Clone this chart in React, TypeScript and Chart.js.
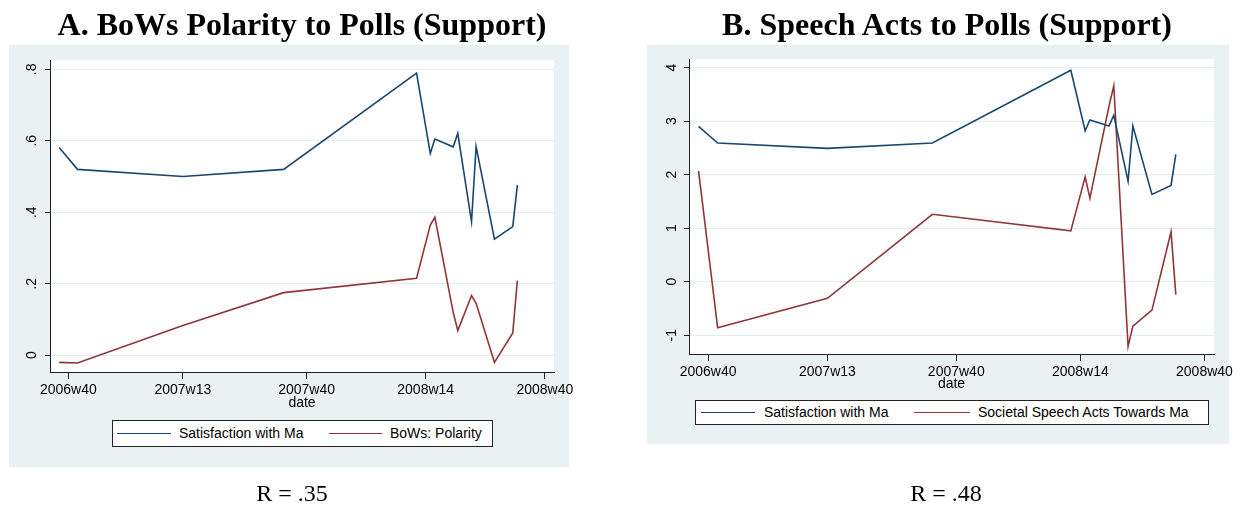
import React, { useEffect, useRef } from "react";
import { Chart, registerables } from "chart.js";

Chart.register(...registerables);

// Stata weekly dates of the poll observations
const weeks = [
  "2006w38", "2006w42", "2007w13", "2007w35", "2008w12", "2008w15", "2008w16",
  "2008w20", "2008w21", "2008w24", "2008w25", "2008w29", "2008w33", "2008w34",
];

// Panel A series
const satisfactionA = [0.581, 0.52, 0.5, 0.52, 0.789, 0.565, 0.605, 0.583, 0.621, 0.374, 0.584, 0.325, 0.36, 0.476];
const bowsPolarity = [-0.02, -0.022, 0.083, 0.175, 0.215, 0.364, 0.386, 0.12, 0.069, 0.167, 0.145, -0.02, 0.062, 0.209];

// Panel B series
const satisfactionB = [2.9, 2.59, 2.49, 2.59, 3.95, 2.82, 3.02, 2.91, 3.11, 1.88, 2.91, 1.63, 1.8, 2.38];
const speechActs = [2.07, -0.86, -0.31, 1.26, 0.95, 1.96, 1.56, 3.28, 3.66, -1.21, -0.83, -0.53, 0.93, -0.24];

// Axis ticks and labels
const xTickLabels = ["2006w40", "2007w13", "2007w40", "2008w14", "2008w40"];
const xRange = ["2006w36", "2008w42"];
const yTicksA = [0, 0.2, 0.4, 0.6, 0.8];
const yLabelsA = ["0", ".2", ".4", ".6", ".8"];
const yTicksB = [-1, 0, 1, 2, 3, 4];
const yLabelsB = ["-1", "0", "1", "2", "3", "4"];

const NAVY = "#1a476f";
const MAROON = "#90353b";
const REGION = "#eaf1f3";
const GRID = "#e3edf0";
const INK = "#222222";
const SANS = "'Liberation Sans', Arial, sans-serif";
const SERIF = "'Liberation Serif', 'Times New Roman', serif";

const weekIndex = (s: string) => {
  const [y, w] = s.split("w").map(Number);
  return y * 52 + w - 1;
};

const toPoints = (vals: number[]) => weeks.map((w, i) => ({ x: weekIndex(w), y: vals[i] }));

// Paints the light graph region and the white plot region behind the lines
const regionPlugin = {
  id: "stataRegion",
  beforeDraw(chart: any, _args: any, opts: any) {
    const { ctx, chartArea } = chart;
    ctx.save();
    ctx.fillStyle = REGION;
    ctx.fillRect(opts.x, opts.y, opts.w, opts.h);
    ctx.fillStyle = "#ffffff";
    ctx.fillRect(chartArea.left, chartArea.top, chartArea.right - chartArea.left, chartArea.bottom - chartArea.top);
    ctx.restore();
  },
};

type PanelSpec = {
  left: number;
  region: { x: number; y: number; w: number; h: number };
  padTop: number;
  padRight: number;
  yWidth: number;
  xHeight: number;
  yMin: number;
  yMax: number;
  yTicks: number[];
  yLabels: string[];
  yPad: number;
  datePad: number;
  series: { label: string; values: number[]; color: string }[];
};

function Panel({ spec }: { spec: PanelSpec }) {
  const ref = useRef<HTMLCanvasElement>(null);
  useEffect(() => {
    const xTickVals = xTickLabels.map(weekIndex);
    const chart = new Chart(ref.current as HTMLCanvasElement, {
      type: "line",
      data: {
        datasets: spec.series.map((s) => ({
          label: s.label,
          data: toPoints(s.values),
          borderColor: s.color,
          borderWidth: 1.6,
          pointRadius: 0,
          tension: 0,
          fill: false,
        })),
      },
      options: {
        animation: false,
        responsive: false,
        devicePixelRatio: 1,
        layout: { padding: { left: 0, top: spec.padTop, right: spec.padRight, bottom: 0 } },
        plugins: {
          legend: { display: false },
          tooltip: { enabled: false },
          stataRegion: spec.region,
        } as any,
        scales: {
          x: {
            type: "linear",
            min: weekIndex(xRange[0]),
            max: weekIndex(xRange[1]),
            afterBuildTicks: (scale: any) => {
              scale.ticks = xTickVals.map((v) => ({ value: v }));
            },
            afterFit: (scale: any) => {
              scale.height = spec.xHeight;
            },
            ticks: {
              autoSkip: false,
              maxRotation: 0,
              minRotation: 0,
              padding: 3,
              color: "#000",
              font: { family: SANS, size: 14 },
              callback: (v: any) => xTickLabels[xTickVals.indexOf(Number(v))] ?? "",
            },
            grid: { drawOnChartArea: false, tickLength: 7, tickColor: INK, tickWidth: 1 },
            border: { display: true, color: INK, width: 1 },
            title: {
              display: true,
              text: "date",
              color: "#000",
              font: { family: SANS, size: 14 },
              padding: { top: 0, bottom: spec.datePad },
            },
          },
          y: {
            type: "linear",
            min: spec.yMin,
            max: spec.yMax,
            afterBuildTicks: (scale: any) => {
              scale.ticks = spec.yTicks.map((v) => ({ value: v }));
            },
            afterFit: (scale: any) => {
              scale.width = spec.yWidth;
            },
            ticks: {
              minRotation: 90,
              maxRotation: 90,
              crossAlign: "center",
              padding: spec.yPad,
              color: "#000",
              font: { family: SANS, size: 14 },
              callback: (v: any) => {
                const i = spec.yTicks.findIndex((t) => Math.abs(t - Number(v)) < 1e-9);
                return i >= 0 ? spec.yLabels[i] : "";
              },
            },
            grid: { color: GRID, lineWidth: 1, tickLength: 5, tickColor: INK, tickWidth: 1 },
            border: { display: true, color: INK, width: 1 },
          },
        },
      },
      plugins: [regionPlugin],
    } as any);
    return () => chart.destroy();
  }, []);
  return (
    <canvas
      ref={ref}
      width={621}
      height={506}
      style={{ position: "absolute", left: spec.left, top: 0, width: 621, height: 506 }}
    />
  );
}

function LegendBox({
  left, top, width, height, items,
}: {
  left: number; top: number; width: number; height: number;
  items: { label: string; color: string; x0: number; x1: number; tx: number }[];
}) {
  return (
    <div
      style={{
        position: "absolute", left, top, width, height, boxSizing: "border-box",
        border: `1px solid ${INK}`, background: "#fff",
      }}
    >
      {items.map((it) => (
        <React.Fragment key={it.label}>
          <div
            style={{
              position: "absolute", left: it.x0, width: it.x1 - it.x0, top: height / 2 - 1.8,
              height: 1.6, background: it.color,
            }}
          />
          <div
            style={{
              position: "absolute", left: it.tx, top: 0, height: height - 2, lineHeight: `${height - 2}px`,
              fontFamily: SANS, fontSize: 14, color: "#000", whiteSpace: "nowrap",
            }}
          >
            {it.label}
          </div>
        </React.Fragment>
      ))}
    </div>
  );
}

const panelA: PanelSpec = {
  left: 0,
  region: { x: 9, y: 45, w: 560, h: 422 },
  padTop: 60,
  padRight: 67,
  yWidth: 50,
  xHeight: 134,
  yMin: -0.047,
  yMax: 0.826,
  yTicks: yTicksA,
  yLabels: yLabelsA,
  yPad: 7,
  datePad: 94,
  series: [
    { label: "Satisfaction with Ma", values: satisfactionA, color: NAVY },
    { label: "BoWs: Polarity", values: bowsPolarity, color: MAROON },
  ],
};

const panelB: PanelSpec = {
  left: 621,
  region: { x: 26, y: 45, w: 582, h: 399 },
  padTop: 59,
  padRight: 28,
  yWidth: 68,
  xHeight: 152,
  yMin: -1.35,
  yMax: 4.16,
  yTicks: yTicksB,
  yLabels: yLabelsB,
  yPad: 6,
  datePad: 113.6,
  series: [
    { label: "Satisfaction with Ma", values: satisfactionB, color: NAVY },
    { label: "Societal Speech Acts Towards Ma", values: speechActs, color: MAROON },
  ],
};

const titleStyle = (cx: number): React.CSSProperties => ({
  position: "absolute", left: cx, top: 8, transform: "translateX(-50%)", whiteSpace: "nowrap",
  fontFamily: SERIF, fontWeight: 700, fontSize: 32, lineHeight: "32px", color: "#000",
});

const rStyle = (cx: number): React.CSSProperties => ({
  position: "absolute", left: cx, top: 481, transform: "translateX(-50%)", whiteSpace: "nowrap",
  fontFamily: SERIF, fontSize: 24, lineHeight: "24px", color: "#000",
});

export default function App() {
  return (
    <div style={{ position: "absolute", left: 0, top: 0, width: 1242, height: 506, background: "#fff", overflow: "hidden" }}>
      <Panel spec={panelA} />
      <Panel spec={panelB} />
      <div style={titleStyle(302)}>A. BoWs Polarity to Polls (Support)</div>
      <div style={titleStyle(947)}>B. Speech Acts to Polls (Support)</div>
      <LegendBox
        left={112} top={420} width={381} height={27}
        items={[
          { label: "Satisfaction with Ma", color: NAVY, x0: 4, x1: 58, tx: 66 },
          { label: "BoWs: Polarity", color: MAROON, x0: 216, x1: 269, tx: 277 },
        ]}
      />
      <LegendBox
        left={695} top={400} width={514} height={25}
        items={[
          { label: "Satisfaction with Ma", color: NAVY, x0: 5, x1: 59, tx: 68 },
          { label: "Societal Speech Acts Towards Ma", color: MAROON, x0: 218, x1: 274, tx: 282 },
        ]}
      />
      <div style={rStyle(292)}>R = .35</div>
      <div style={rStyle(946)}>R = .48</div>
    </div>
  );
}
